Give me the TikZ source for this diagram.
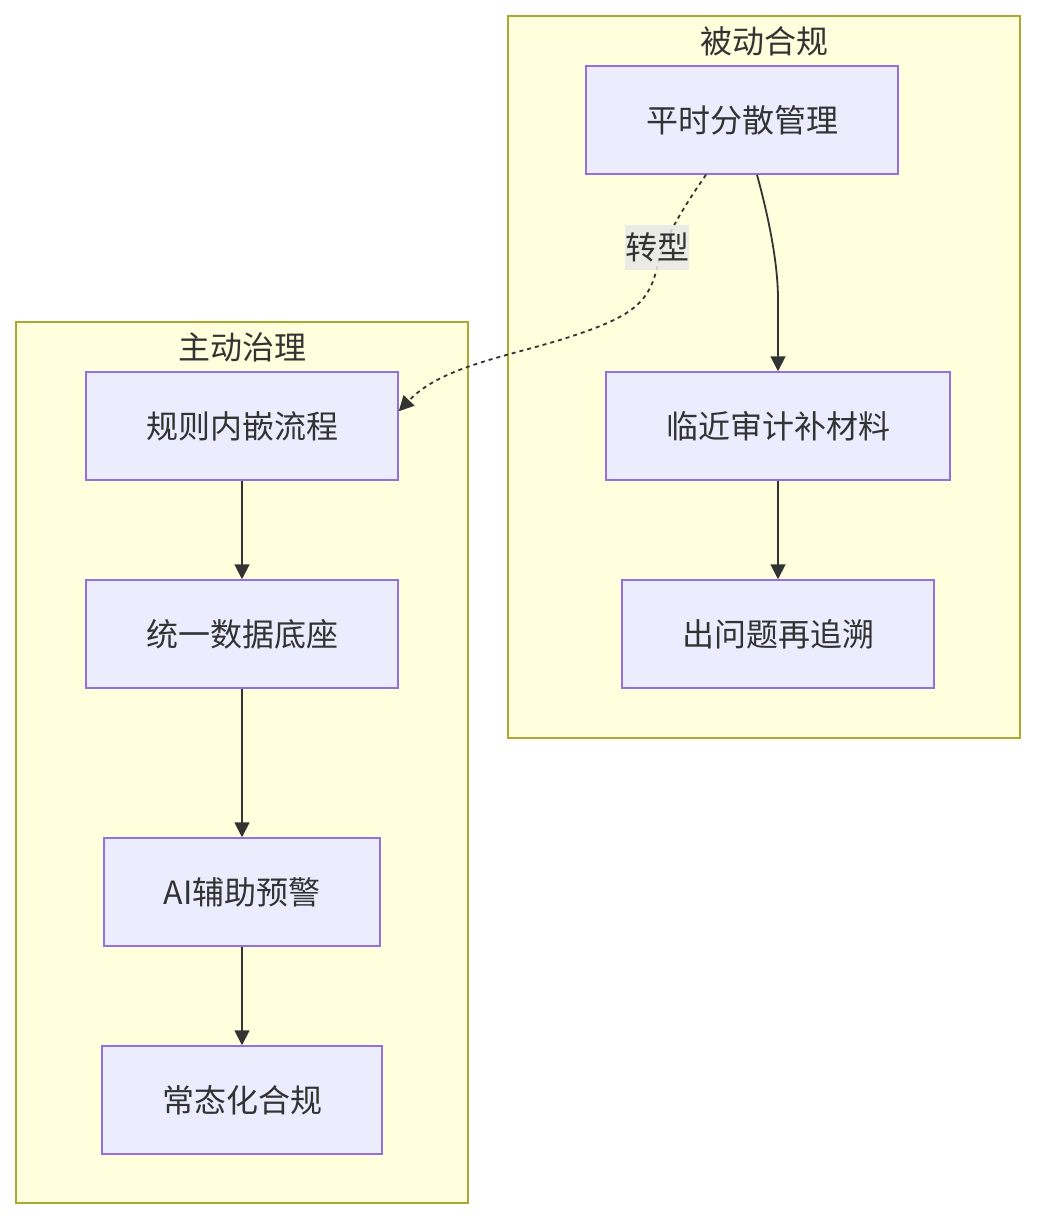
\documentclass[tikz,border=0pt]{standalone}
\usepackage{fontspec}
\setmainfont{Noto Sans CJK SC}
\usetikzlibrary{arrows.meta}
\definecolor{clfill}{HTML}{FFFFDE}
\definecolor{clline}{HTML}{AAAA33}
\definecolor{ndfill}{HTML}{ECECFF}
\definecolor{ndline}{HTML}{9370DB}
\definecolor{ink}{HTML}{333333}
\definecolor{lblbg}{HTML}{E8E8E8}
\tikzset{
  cluster/.style={draw=clline, fill=clfill, line width=1.5pt},
  box/.style={draw=ndline, fill=ndfill, line width=1.5pt, inner sep=0pt},
  txt/.style={text=ink, font=\fontsize{32}{38}\selectfont, inner sep=0pt},
  edge/.style={draw=ink, line width=1.8pt, -{Triangle[length=15pt,width=15pt]}},
  dedge/.style={draw=ink, line width=1.8pt, dash pattern=on 4pt off 4pt, -{Triangle[length=15pt,width=15pt]}}
}
\begin{document}
\begin{tikzpicture}[x=1pt,y=-1pt]
\useasboundingbox (0,0) rectangle (1036,1220);
% clusters
\path[cluster] (508,16) rectangle (1020,738);
\node[txt] (t1) at (764,41) {被动合规};
\path[cluster] (16,322) rectangle (468,1203);
\node[txt] (t2) at (242,347) {主动治理};
% nodes
\node[box, minimum width=312pt, minimum height=108pt] (a1) at (742,120) {};
\node[txt] at (a1) {平时分散管理};
\node[box, minimum width=344pt, minimum height=108pt] (a2) at (778,426) {};
\node[txt] at (a2) {临近审计补材料};
\node[box, minimum width=312pt, minimum height=108pt] (a3) at (778,634) {};
\node[txt] at (a3) {出问题再追溯};
\node[box, minimum width=312pt, minimum height=108pt] (b1) at (242,426) {};
\node[txt] at (b1) {规则内嵌流程};
\node[box, minimum width=312pt, minimum height=108pt] (b2) at (242,634) {};
\node[txt] at (b2) {统一数据底座};
\node[box, minimum width=276pt, minimum height=108pt] (b3) at (242,892) {};
\node[txt] at (b3) {AI辅助预警};
\node[box, minimum width=280pt, minimum height=108pt] (b4) at (242,1100) {};
\node[txt] at (b4) {常态化合规};
% edges
\coordinate (s1) at ([xshift=15pt]a1.south);
\draw[edge] (s1) .. controls (772,230) and (778,270) .. (778,300) -- (a2.north);
\draw[edge] (a2) -- (a3);
\draw[edge] (b1) -- (b2);
\draw[edge] (b2) -- (b3);
\draw[edge] (b3) -- (b4);
\coordinate (s2) at ([xshift=-36pt]a1.south);
\coordinate (e2) at ([yshift=-40pt]b1.north east);
\coordinate (m2) at (657,268);
\draw[dedge] (s2) .. controls (690,198) and (664,236) .. (m2)
  .. controls (648,305) and (630,318) .. (560,340)
  .. controls (500,358) and (440,368) .. (e2);
\node[txt, fill=lblbg, fill opacity=0.85, text opacity=1, minimum width=64pt, minimum height=45pt] (lb) at (657,247) {转型};
\end{tikzpicture}
\end{document}
